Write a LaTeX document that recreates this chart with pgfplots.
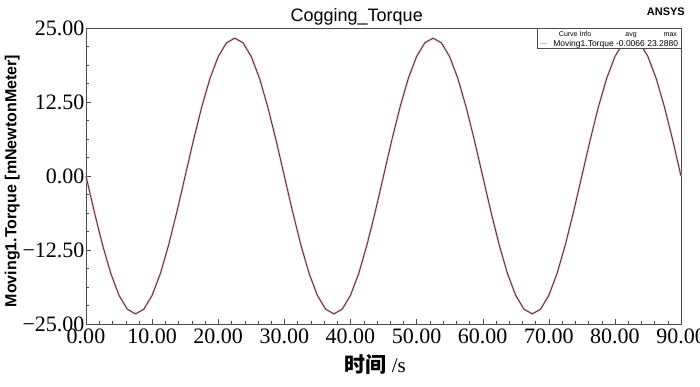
\documentclass[border=0pt]{standalone}
\usepackage{pgfplots}
\usepackage{pgfplotstable}
\pgfplotsset{compat=1.18}
\usepackage{fontspec}
\setmainfont{Liberation Serif}
\newfontfamily\arial{Liberation Sans}
\newfontfamily\cjk{Noto Sans CJK SC}
\definecolor{halo}{RGB}{240,170,195}
\definecolor{curve}{RGB}{90,45,68}
\pgfplotstableread{
t v
0 0
1.25 -6.03
2.5 -11.64
3.75 -16.47
5 -20.17
6.25 -22.50
7.5 -23.29
8.75 -22.50
10 -20.17
11.25 -16.47
12.5 -11.64
13.75 -6.03
15 0
16.25 6.03
17.5 11.64
18.75 16.47
20 20.17
21.25 22.50
22.5 23.29
23.75 22.50
25 20.17
26.25 16.47
27.5 11.64
28.75 6.03
30 0
31.25 -6.03
32.5 -11.64
33.75 -16.47
35 -20.17
36.25 -22.50
37.5 -23.29
38.75 -22.50
40 -20.17
41.25 -16.47
42.5 -11.64
43.75 -6.03
45 0
46.25 6.03
47.5 11.64
48.75 16.47
50 20.17
51.25 22.50
52.5 23.29
53.75 22.50
55 20.17
56.25 16.47
57.5 11.64
58.75 6.03
60 0
61.25 -6.03
62.5 -11.64
63.75 -16.47
65 -20.17
66.25 -22.50
67.5 -23.29
68.75 -22.50
70 -20.17
71.25 -16.47
72.5 -11.64
73.75 -6.03
75 0
76.25 6.03
77.5 11.64
78.75 16.47
80 20.17
81.25 22.50
82.5 23.29
83.75 22.50
85 20.17
86.25 16.47
87.5 11.64
88.75 6.03
90 0
}\torque
\begin{document}
\begin{tikzpicture}
\begin{axis}[
  scale only axis, width=595pt, height=296pt,
  xmin=0, xmax=90, ymin=-25, ymax=25,
  clip=false,
  xtick={0,10,20,30,40,50,60,70,80,90},
  xticklabels={0.00,10.00,20.00,30.00,40.00,50.00,60.00,70.00,80.00,90.00},
  ytick={-25,-12.5,0,12.5,25},
  yticklabels={−25.00,−12.50,0.00,12.50,25.00},
  minor x tick num=4, minor y tick num=3,
  xtick pos=bottom, ytick pos=left, tick align=inside,
  major tick length=5pt, minor tick length=3pt,
  tick style={black!70},
  ticklabel style={font=\fontsize{22}{22}\selectfont},
  xticklabel style={yshift=-1pt},
  yticklabel style={xshift=2pt},
  axis line style={black!70},
]
\addplot[draw=halo, line width=2.2pt, opacity=0.6] table[x=t,y=v] {\torque};
\addplot[draw=curve, line width=0.9pt] table[x=t,y=v] {\torque};
% legend box
\draw[fill=white, draw=black!70, line width=0.6pt] (rel axis cs:0.758,1) rectangle (rel axis cs:1,0.932);
\node[font=\arial\fontsize{7}{7}\selectfont, anchor=base] at (rel axis cs:0.822,0.970) {Curve Info};
\node[font=\arial\fontsize{7}{7}\selectfont, anchor=base] at (rel axis cs:0.916,0.970) {avg};
\node[font=\arial\fontsize{7}{7}\selectfont, anchor=base] at (rel axis cs:0.982,0.970) {max};
\draw[halo, line width=1pt] (rel axis cs:0.763,0.946) -- (rel axis cs:0.775,0.946);
\node[font=\arial\fontsize{8.5}{8.5}\selectfont, anchor=base west, inner sep=0pt] at (rel axis cs:0.785,0.939) {Moving1.Torque -0.0066 23.2880};
% title and labels
\node[font=\arial\fontsize{18}{18}\selectfont, anchor=base, yshift=7pt] at (rel axis cs:0.455,1) {Cogging\_Torque};
\node[font=\arial\bfseries\fontsize{11}{11}\selectfont, anchor=base east, xshift=4pt, yshift=13pt, inner sep=0pt] at (rel axis cs:1,1) {ANSYS};
\node[rotate=90, font=\arial\bfseries\fontsize{16}{16}\selectfont] at (rel axis cs:-0.124,0.483) {Moving1.Torque [mNewtonMeter]};
\node[anchor=base, yshift=-48pt, font=\fontsize{21}{21}\selectfont] at (rel axis cs:0.486,0) {{\cjk\bfseries 时间} /s};
\end{axis}
\pgfresetboundingbox
\path (current axis.south west) ++(-86pt,-62pt) rectangle ++(700pt,386pt);
\end{tikzpicture}
\end{document}
